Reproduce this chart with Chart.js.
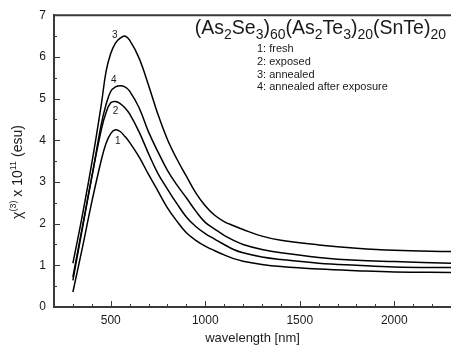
<!DOCTYPE html>
<html><head><meta charset="utf-8">
<script src="https://cdn.jsdelivr.net/npm/chart.js@4.4.0/dist/chart.umd.min.js"></script>
<style>html,body{margin:0;padding:0;background:#fff;}#wrap{width:451px;height:350px;position:relative;}</style>
</head><body><div id="wrap"><canvas id="c" width="451" height="350"></canvas></div>
<script>
// ---- data ----
const wavelength = [300, 350, 400, 450, 475, 500, 525, 550, 575, 600, 650, 700, 750, 800, 850, 900, 950, 1000, 1050, 1100, 1150, 1200, 1300, 1400, 1600, 1800, 2000, 2300];
const fresh      = [0.36, 1.42, 2.52, 3.52, 3.92, 4.16, 4.25, 4.21, 4.09, 3.95, 3.60, 3.18, 2.78, 2.38, 2.06, 1.78, 1.60, 1.46, 1.35, 1.25, 1.16, 1.10, 1.02, 0.97, 0.91, 0.87, 0.84, 0.83];
const exposed    = [0.64, 1.88, 3.12, 4.25, 4.66, 4.90, 4.93, 4.88, 4.78, 4.63, 4.20, 3.68, 3.20, 2.83, 2.48, 2.16, 1.93, 1.76, 1.63, 1.50, 1.38, 1.30, 1.20, 1.14, 1.05, 1.00, 0.96, 0.945];
const annealed   = [1.05, 2.20, 3.45, 4.85, 5.64, 6.08, 6.33, 6.45, 6.50, 6.40, 5.97, 5.32, 4.62, 4.02, 3.55, 3.14, 2.74, 2.43, 2.20, 2.05, 1.95, 1.86, 1.70, 1.60, 1.49, 1.41, 1.36, 1.33];
const annealedAfterExposure = [0.72, 1.92, 3.12, 4.38, 4.85, 5.17, 5.28, 5.31, 5.28, 5.18, 4.78, 4.20, 3.72, 3.28, 2.93, 2.62, 2.30, 2.03, 1.87, 1.72, 1.60, 1.50, 1.38, 1.30, 1.19, 1.12, 1.09, 1.05];
const seriesNames = ['1: fresh', '2: exposed', '3: annealed', '4: annealed after exposure'];
const curveNumbers = ['1', '2', '3', '4'];
const curveLabelWavelength = [537, 526, 521, 516];
const curveLabelValue = [3.98, 4.69, 6.52, 5.43];
const xMajorTicks = [500, 1000, 1500, 2000];
const xMinorTicks = [300, 400, 600, 700, 800, 900, 1100, 1200, 1300, 1400, 1600, 1700, 1800, 1900, 2100, 2200];
const yMajorTicks = [0, 1, 2, 3, 4, 5, 6, 7];
const yMinorTicks = [0.5, 1.5, 2.5, 3.5, 4.5, 5.5, 6.5];
const xRange = [200, 2300];
const yRange = [0, 7];

const FONT = '"Liberation Sans", Arial, sans-serif';
const AXIS = '#3a3a3a';

function pts(vals) { return wavelength.map((w, i) => ({ x: w, y: vals[i] })); }
const seriesValues = [fresh, exposed, annealed, annealedAfterExposure];

function drawRich(ctx, segs, x, y, big, small, shift) {
  let cx = x;
  segs.forEach(s => {
    const size = s.k === 'n' ? big : small;
    ctx.font = size + 'px ' + FONT;
    const dy = s.k === 'sub' ? shift : (s.k === 'sup' ? -shift : 0);
    ctx.fillText(s.t, cx, y + dy);
    cx += ctx.measureText(s.t).width;
  });
  return cx - x;
}
function richWidth(ctx, segs, big, small) {
  let w = 0;
  segs.forEach(s => { ctx.font = (s.k === 'n' ? big : small) + 'px ' + FONT; w += ctx.measureText(s.t).width; });
  return w;
}

const deco = {
  id: 'deco',
  afterDraw(chart) {
    const { ctx, chartArea: a, scales: { x, y } } = chart;
    ctx.save();
    ctx.strokeStyle = AXIS;
    ctx.lineWidth = 2;
    ctx.beginPath(); ctx.moveTo(a.left - 1, a.top); ctx.lineTo(a.right, a.top); ctx.stroke();
    ctx.lineWidth = 1;
    const seg = (x1, y1, x2, y2) => { ctx.beginPath(); ctx.moveTo(x1, y1); ctx.lineTo(x2, y2); ctx.stroke(); };
    xMajorTicks.forEach(v => { const p = Math.round(x.getPixelForValue(v)) + 0.5; seg(p, a.bottom, p, a.bottom - 6); });
    xMinorTicks.forEach(v => { const p = Math.round(x.getPixelForValue(v)) + 0.5; seg(p, a.bottom, p, a.bottom - 3); });
    yMajorTicks.forEach(v => { const p = Math.round(y.getPixelForValue(v)) + 0.5; seg(a.left, p, a.left + 6, p); });
    yMinorTicks.forEach(v => { const p = Math.round(y.getPixelForValue(v)) + 0.5; seg(a.left, p, a.left + 3, p); });

    ctx.fillStyle = '#1a1a1a';
    // curve numbers
    ctx.font = '10px ' + FONT;
    ctx.textAlign = 'center'; ctx.textBaseline = 'middle';
    curveNumbers.forEach((t, i) => ctx.fillText(t, x.getPixelForValue(curveLabelWavelength[i]), y.getPixelForValue(curveLabelValue[i])));

    // title with subscripts
    ctx.textAlign = 'left'; ctx.textBaseline = 'alphabetic';
    const title = [
      { t: '(As', k: 'n' }, { t: '2', k: 'sub' }, { t: 'Se', k: 'n' }, { t: '3', k: 'sub' }, { t: ')', k: 'n' }, { t: '60', k: 'sub' },
      { t: '(As', k: 'n' }, { t: '2', k: 'sub' }, { t: 'Te', k: 'n' }, { t: '3', k: 'sub' }, { t: ')', k: 'n' }, { t: '20', k: 'sub' },
      { t: '(SnTe)', k: 'n' }, { t: '20', k: 'sub' }
    ];
    const tw = richWidth(ctx, title, 19.5, 14);
    drawRich(ctx, title, 446 - tw, 34, 19.5, 14, 4.5);

    // legend text
    ctx.font = '11px ' + FONT;
    seriesNames.forEach((s, i) => ctx.fillText(s, 257, 52 + i * 12.8));

    // x title
    ctx.font = '13px ' + FONT;
    ctx.textAlign = 'center';
    ctx.fillText('wavelength [nm]', (a.left + a.right) / 2, 342);

    // y title (rotated)
    const yt = [
      { t: 'χ', k: 'n' }, { t: '(3)', k: 'sup' }, { t: ' x 10', k: 'n' }, { t: '11', k: 'sup' }, { t: ' (esu)', k: 'n' }
    ];
    const yw = richWidth(ctx, yt, 14, 9);
    ctx.translate(22, 172);
    ctx.rotate(-Math.PI / 2);
    ctx.textAlign = 'left';
    drawRich(ctx, yt, -yw / 2, 0, 14, 9, 6);
    ctx.restore();
  }
};

new Chart(document.getElementById('c'), {
  type: 'line',
  data: {
    datasets: seriesValues.map((v, i) => ({
      label: seriesNames[i],
      data: pts(v),
      borderColor: '#000',
      borderWidth: 1.5,
      pointRadius: 0,
      fill: false,
      tension: 0.4
    }))
  },
  options: {
    responsive: false,
    animation: false,
    layout: { padding: { top: 13, right: 0, left: 0, bottom: 0 } },
    plugins: { legend: { display: false }, tooltip: { enabled: false }, title: { display: false } },
    scales: {
      x: {
        type: 'linear', min: xRange[0], max: xRange[1],
        afterBuildTicks: s => { s.ticks = xMajorTicks.map(v => ({ value: v })); },
        afterFit: s => { s.height = 43; },
        grid: { display: false, drawTicks: false },
        border: { display: true, color: AXIS, width: 2 },
        ticks: { padding: 6, color: '#1a1a1a', font: { family: FONT, size: 12 }, maxRotation: 0, autoSkip: false, callback: v => String(v) }
      },
      y: {
        type: 'linear', min: yRange[0], max: yRange[1],
        afterBuildTicks: s => { s.ticks = yMajorTicks.map(v => ({ value: v })); },
        afterFit: s => { s.width = 54; },
        grid: { display: false, drawTicks: false },
        border: { display: true, color: AXIS, width: 2 },
        ticks: { padding: 8, color: '#1a1a1a', font: { family: FONT, size: 12 }, autoSkip: false, callback: v => String(v) }
      }
    }
  },
  plugins: [deco]
});
</script></body></html>
